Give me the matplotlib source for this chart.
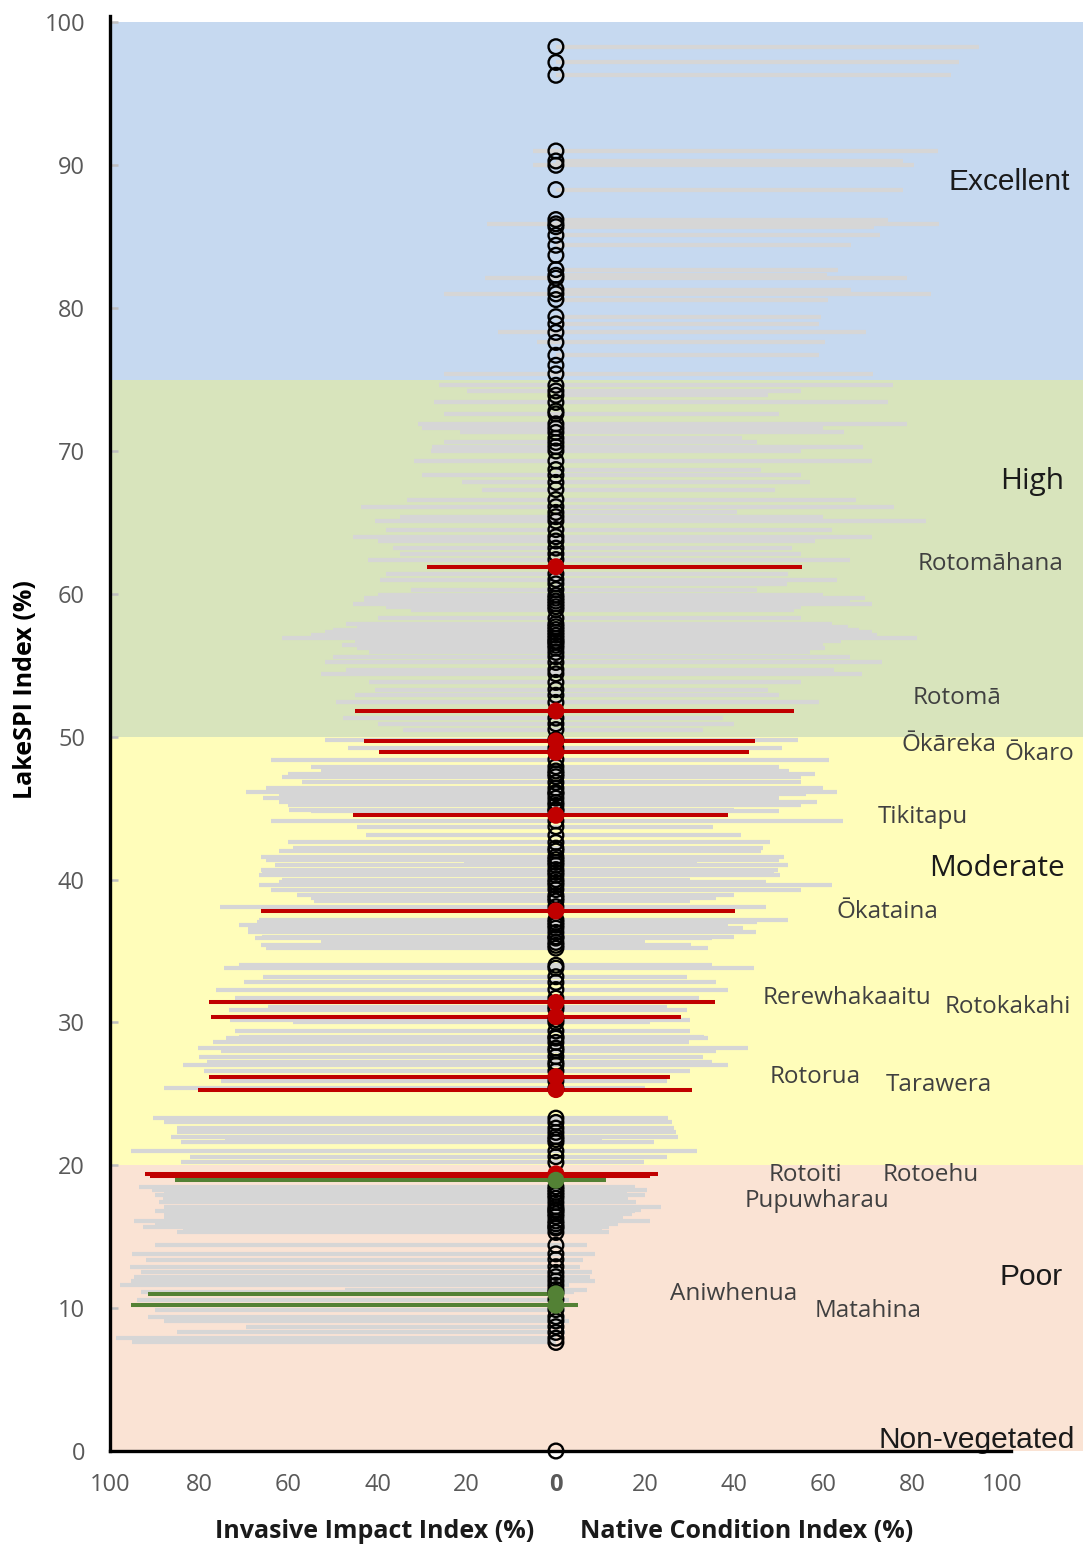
import matplotlib
matplotlib.use("Agg")
import matplotlib.pyplot as plt
import numpy as np

plt.rcParams['font.family'] = ['Open Sans', 'DejaVu Sans']

# ---- All lakes: LakeSPI index, Invasive Impact index, Native Condition index (%) ----
lake_spi = [
    # Excellent
    98.3, 97.2, 96.3, 91.0, 90.3, 90.0, 88.3, 86.2, 85.9, 85.7, 85.1, 84.4, 83.7,
    82.7, 82.3, 82.1, 81.3, 81.0, 80.6, 79.4, 78.9, 78.3, 77.6, 76.7, 76.0, 75.4,
    # High
    74.6, 74.2, 73.9, 73.4, 72.8, 72.6, 71.9, 71.6, 71.3, 70.9, 70.6, 70.3, 70.0,
    69.3, 68.7, 68.3, 67.8, 67.3, 66.6, 66.1, 65.7, 65.4, 65.1, 64.5, 64.0, 63.7,
    63.2, 62.8, 62.4, 61.4, 61.0, 60.7, 60.3, 59.9, 59.7, 59.5, 59.3, 59.1, 58.9,
    58.3, 57.9, 57.7, 57.5, 57.3, 57.1, 56.9, 56.7, 56.6, 56.4, 56.2, 55.9, 55.6,
    55.2, 54.7, 54.4, 53.8, 53.3, 52.9, 52.4, 51.3, 50.9, 50.5,
    # Moderate
    49.8, 49.2, 48.4, 47.9, 47.6, 47.4, 47.2, 46.8, 46.4, 46.1, 46.0, 45.7, 45.4,
    45.2, 44.9, 44.8, 44.1, 43.7, 43.1, 42.6, 42.2, 42.0, 41.6, 41.4, 41.2, 41.0,
    40.7, 40.5, 40.3, 40.0, 39.8, 39.6, 39.3, 38.9, 38.7, 38.5, 38.1, 37.2, 37.0,
    36.8, 36.6, 36.3, 36.0, 35.9, 35.6, 35.4, 35.2, 34.0, 33.8, 33.2, 32.8, 32.3,
    31.7, 31.1, 30.9, 30.2, 30.0, 29.4, 29.0, 28.9, 28.6, 28.2, 28.0, 27.6, 27.2,
    27.0, 26.6, 25.9, 25.4, 23.3, 23.0, 22.6, 22.3, 22.0, 21.8, 21.6, 21.0, 20.6,
    20.2,
    # Poor
    18.5, 18.3, 18.1, 17.9, 17.7, 17.4, 17.1, 16.9, 16.8, 16.6, 16.4, 16.1, 15.9,
    15.7, 15.6, 15.3, 14.4, 13.8, 13.4, 12.9, 12.5, 12.2, 11.9, 11.6, 11.3, 11.1,
    10.6, 9.9, 9.4, 9.1, 8.7, 8.3, 7.9, 7.6, 0.0,
]
invasive = [
    # Excellent
    0, 0, 0, 5.2, 0, 5.2, 0, 0, 15.4, 0, 0, 0, 0,
    0, 0, 16, 0, 25, 0, 0, 0, 13, 4.2, 0, 0, 25,
    # High
    26.2, 20, 0, 27.4, 0, 25, 31, 30, 21.4, 0, 25, 27.8, 28,
    31.8, 0, 30, 21, 16.6, 33.4, 43.8, 0, 35, 40.6, 38, 45.4, 40,
    36.6, 35, 42.2, 38, 39.4, 0, 32.6, 40, 43, 43, 45.4, 38, 32.6,
    40, 47, 44.6, 50, 51.8, 55, 61.4, 45, 44.6, 48, 44.6, 42, 50,
    51.8, 47, 52.6, 42, 40.6, 45, 49.4, 47.8, 40, 34.2,
    # Moderate
    51.8, 46.6, 63.8, 55, 52.6, 60, 61.4, 57, 65, 69.4, 62, 65.8, 62.2,
    60, 59.8, 55, 63.8, 44.6, 42.6, 60, 59, 62, 66.2, 65, 20.6, 63,
    66.2, 66, 66.6, 61.4, 62, 66.6, 64, 58, 55, 54.2, 75.4, 66.6, 67,
    71, 69, 69, 66, 67.4, 52.6, 66.2, 65, 71, 74.4, 65.8, 70, 76.2,
    72, 64.6, 73.4, 73, 59, 72, 71, 74, 76.8, 80.2, 75, 80, 78.2,
    83.6, 79, 75, 88, 90.4, 88, 85, 85, 86.4, 74.2, 84, 95.2, 82,
    84,
    # Poor
    93.6, 90.6, 88, 90, 88.2, 89, 87.8, 86, 89.8, 88, 87.8, 94.6, 90,
    92.6, 83.6, 85, 90, 95, 92, 95.6, 93, 94.6, 95.4, 97.8, 47.4, 93,
    94, 90, 91.4, 88, 69.6, 85, 98.6, 95, 0,
]
native = [
    # Excellent
    94.8, 90.4, 88.6, 85.6, 77.9, 80.2, 77.9, 74.4, 86.0, 71.3, 72.6, 66.2, 0,
    63.3, 60.8, 78.8, 66.2, 84.1, 61.0, 59.4, 59.1, 69.5, 60.4, 59.1, 0, 71.0,
    # High
    75.5, 55, 47.6, 74.4, 0, 50, 78.8, 60, 64.7, 41.8, 45, 68.9, 55,
    70.9, 46.1, 55, 56.9, 49.2, 67.4, 75.9, 40.6, 60, 82.9, 62, 70.9, 58,
    53.0, 55, 65.9, 52, 63.1, 51.9, 45, 60, 69.3, 66, 70.9, 55, 53.4,
    55, 62, 65.5, 68, 70.9, 72, 81.0, 64, 58.5, 60, 60.4, 57, 66,
    73.2, 62.4, 68.6, 55, 47.6, 50, 58.9, 37.5, 40, 32.9,
    # Moderate
    54.2, 50.8, 61.2, 50, 52.3, 58, 55.0, 55, 60, 63.1, 56, 50, 58.5,
    55, 40, 50, 64.3, 35.2, 41.4, 48, 46.5, 46, 51.1, 50, 31.7, 52,
    49.9, 49, 50.3, 30, 47, 62.0, 55, 40, 35.8, 30, 47.2, 52.1, 45,
    38.7, 42, 44.9, 40, 35, 20, 30.4, 34, 35, 44.5, 29.4, 36, 38.7,
    32, 25, 29.4, 30, 21.2, 30, 33.3, 34, 29.8, 43, 36, 33, 35,
    38.7, 30, 25, 20, 25.1, 26, 26.5, 27, 27.4, 10.4, 22, 31.7, 25,
    19.7,
    # Poor
    17.7, 20.5, 16, 20, 16.2, 18, 23.6, 19, 17.7, 17, 15, 21.2, 14,
    12, 10.4, 12, 7, 8.8, 6, 5.3, 8, 7.7, 8.8, 3, 6.9, 4,
    3, 2, 2, 3, 1, 2, 0, 0, 0,
]

# ---- Highlighted lakes ----
hl_names = ["Rotomāhana", "Rotomā", "Ōkāreka", "Ōkaro", "Tikitapu", "Ōkataina",
            "Rerewhakaaitu", "Rotokakahi", "Rotorua", "Tarawera", "Rotoiti",
            "Rotoehu", "Pupuwharau", "Aniwhenua", "Matahina"]
hl_spi = [61.9, 51.8, 49.7, 48.9, 44.5, 37.8, 31.4, 30.4, 26.2, 25.3, 19.4,
          19.25, 18.95, 11.0, 10.2]
hl_invasive = [29, 45, 43, 39.6, 45.4, 66.2, 77.8, 77.3, 77.8, 80.2, 92.2,
               91, 85.4, 91.4, 95.2]
hl_native = [55.2, 53.3, 44.6, 43.2, 38.7, 40.1, 35.7, 28.0, 25.5, 30.5, 22.8,
             21.2, 11.2, 1.0, 4.9]
hl_group = ["red"] * 12 + ["green"] * 3

# label anchor (left edge x, centre y) in data units
label_x = [81.2, 80.0, 77.4, 100.7, 72.2, 63.0, 46.4, 87.2, 48.0, 74.0, 47.8,
           73.3, 42.4, 25.6, 58.1]
label_y = [62.1, 52.7, 49.4, 48.8, 44.4, 37.7, 31.7, 31.1, 26.2, 25.6, 19.3,
           19.3, 17.5, 11.0, 9.8]

# ---- Condition bands ----
band_names = ["Excellent", "High", "Moderate", "Poor"]
band_lo = [75, 50, 20, 0]
band_hi = [100, 75, 50, 20]
band_colors = ["#C6D9F0", "#D8E4BC", "#FFFDBA", "#FAE3D4"]

W, H = 1083, 1548
fig = plt.figure(figsize=(W / 100, H / 100), dpi=100)
ax = fig.add_axes([110 / W, 97 / H, 973 / W, 1435 / H])
ax.set_xlim(-100, 118.2)
ax.set_ylim(0, 100.45)

for lo, hi, c in zip(band_lo, band_hi, band_colors):
    ax.axhspan(lo, hi, color=c, lw=0, zorder=0)

spi = np.array(lake_spi)
ax.hlines(spi, -np.array(invasive), np.array(native), color="#D6D6D6",
          lw=3.0, zorder=1)

col = {"red": "#C00000", "green": "#538135"}
for y, inv, nat, g in zip(hl_spi, hl_invasive, hl_native, hl_group):
    ax.plot([-inv, nat], [y, y], color=col[g], lw=2.9, solid_capstyle="butt", zorder=3)

ax.scatter(np.zeros(len(spi)), spi, s=112, facecolors="none", edgecolors="black",
           linewidths=1.7, zorder=4, clip_on=False)
ax.scatter(np.zeros(len(hl_spi)), hl_spi, s=150,
           c=[col[g] for g in hl_group], edgecolors="none", zorder=5)

# condition band titles
band_label_x = [115.3, 114.1, 114.1, 113.7]
band_label_y = [88.8, 67.9, 40.8, 12.2]
band_fonts = ["Liberation Sans", "Open Sans", "Open Sans", "Liberation Sans"]
for name, x, y, f in zip(band_names, band_label_x, band_label_y, band_fonts):
    ax.text(x, y, name, ha="right", va="center", fontsize=21.5,
            family=f, color="#1A1A1A", zorder=6)
ax.text(116.4, 0.8, "Non-vegetated", ha="right", va="center", fontsize=21.5,
        family="Liberation Sans", color="#1A1A1A", zorder=6, clip_on=False)

for name, x, y in zip(hl_names, label_x, label_y):
    ax.text(x, y, name, ha="left", va="center", fontsize=17.5,
            color="#404040", zorder=6)

# axes styling
for s in ["top", "right"]:
    ax.spines[s].set_visible(False)
ax.spines["left"].set_linewidth(2.4)
ax.spines["bottom"].set_linewidth(2.4)
ax.spines["bottom"].set_bounds(-100, 102)
ax.spines["left"].set_zorder(7)
ax.spines["bottom"].set_zorder(7)

ax.set_yticks(np.arange(0, 101, 10))
ax.tick_params(axis="y", direction="in", length=6, width=1.8, color="#BFBFBF",
               labelsize=17, labelcolor="#595959", pad=18)
xt = [-100, -80, -60, -40, -20, 0, 20, 40, 60, 80, 100]
xl = ["100", "80", "60", "40", "20", "0", "20", "40", "60", "80", "100"]
ax.set_xticks(xt)
ax.set_xticklabels(xl)
ax.tick_params(axis="x", length=0, labelsize=17, labelcolor="#595959", pad=16)
ax.get_xticklabels()[5].set_fontweight("bold")

ax.set_ylabel("LakeSPI Index (%)", fontsize=18, fontweight="bold", color="black")
ax.yaxis.set_label_coords(-72 / 973, (1451 - 690) / 1435)
fig.text(375 / W, 1 - 1531 / H, "Invasive Impact Index (%)", ha="center",
         va="center", fontsize=18, fontweight="bold", color="#1A1A1A")
fig.text(747 / W, 1 - 1531 / H, "Native Condition Index (%)", ha="center",
         va="center", fontsize=18, fontweight="bold", color="#1A1A1A")

fig.savefig("out.png", dpi=100)
